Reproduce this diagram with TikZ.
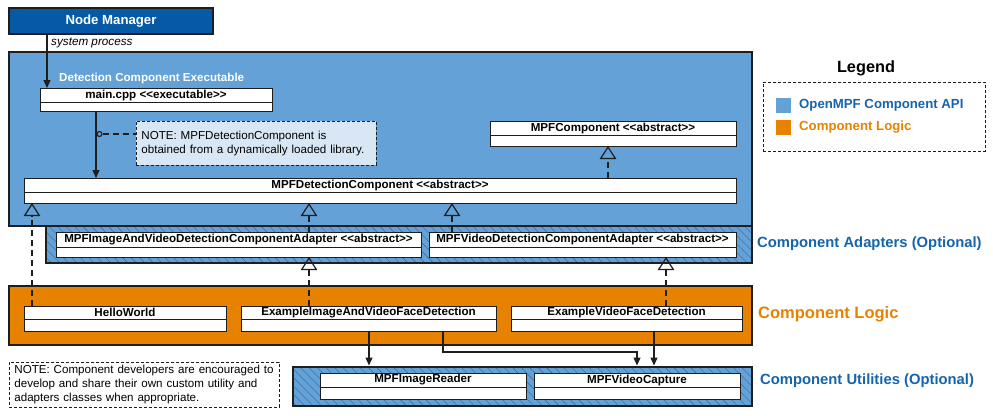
\documentclass[tikz,border=0pt]{standalone}
\usepackage{fontspec}
\setmainfont{Liberation Sans}
\usetikzlibrary{arrows.meta,patterns.meta,calc}
\definecolor{apiblue}{RGB}{99,161,214}
\definecolor{nmblue}{RGB}{6,90,165}
\definecolor{lblblue}{RGB}{22,100,172}
\definecolor{logicor}{RGB}{230,130,0}
\definecolor{notefill}{RGB}{217,231,245}
\definecolor{hatchc}{RGB}{55,100,155}
\definecolor{edge}{RGB}{30,30,30}
\newcommand\umlcls[7]{%
  \node[hdr, minimum width=#4, minimum height=#5] (#1h) at (#2,#3) {#7};
  \node[bdy, minimum width=#4, minimum height=#6] (#1b) at (#1h.south) {};}
\newcommand\stlt{{<}{<}}
\newcommand\stgt{{>}{>}}
\begin{document}
\begin{tikzpicture}[x=1pt,y=-1pt,
  region/.style={draw=edge, line width=2pt, anchor=north west, inner sep=0pt, outer sep=0pt},
  hatched/.style={preaction={fill=apiblue}, pattern={Lines[angle=-45,distance=6pt,line width=0.4pt]}, pattern color=hatchc},
  hdr/.style={draw=edge, fill=white, line width=0.9pt, anchor=north west, inner sep=0pt, outer sep=0pt, font=\fontsize{11.6}{13}\selectfont\bfseries},
  bdy/.style={draw=edge, fill=white, line width=0.9pt, anchor=north, inner sep=0pt, outer sep=0pt},
  arr/.style={line width=1.3pt, draw=edge, -{Triangle[length=8pt,width=7pt]}},
  inh/.style={line width=1.3pt, draw=edge, dash pattern=on 6pt off 4pt, -{Triangle[open,length=13pt,width=16.5pt,line width=1.2pt]}},
  notetxt/.style={font=\fontsize{11.6}{14.5}\selectfont, align=left},
  sidelbl/.style={anchor=west, inner sep=0pt, font=\fontsize{14.8}{16}\selectfont\bfseries}
]
\useasboundingbox (0,0) rectangle (993,415);

% regions
\node[region, fill=nmblue, minimum width=204, minimum height=26, text=white, font=\fontsize{13.2}{15}\selectfont\bfseries] (nm) at (9,8) {Node Manager};
\node[region, fill=apiblue, minimum width=743, minimum height=174] (exe) at (9,52) {};
\node[region, hatched, minimum width=706, minimum height=37] (adapt) at (46,226) {};
\node[region, fill=logicor, minimum width=743, minimum height=59] (logic) at (9,286) {};
\node[region, hatched, minimum width=459, minimum height=39] (util) at (293,367) {};

\node[anchor=west, inner sep=0pt, text=white, font=\fontsize{11.6}{13}\selectfont\bfseries] (exetitle) at (59,78) {Detection Component Executable};
\node[anchor=west, inner sep=0pt, font=\fontsize{11.7}{13}\selectfont\itshape] (sysproc) at (51,43) {system process};

% classes
\umlcls{main}{40}{88}{232}{14}{9}{main.cpp \stlt executable\stgt}
\umlcls{mpc}{490}{121}{246}{14}{11}{MPFComponent \stlt abstract\stgt}
\umlcls{det}{24}{178}{712}{14}{11}{MPFDetectionComponent \stlt abstract\stgt}
\umlcls{iva}{56}{232}{365}{15}{10}{MPFImageAndVideoDetectionComponentAdapter \stlt abstract\stgt}
\umlcls{vda}{429}{232}{307}{15}{10}{MPFVideoDetectionComponentAdapter \stlt abstract\stgt}
\umlcls{hw}{24}{306}{202}{13}{12}{HelloWorld}
\umlcls{eivf}{241}{306}{255}{13}{12}{ExampleImageAndVideoFaceDetection}
\umlcls{evf}{511}{306}{231}{13}{12}{ExampleVideoFaceDetection}
\umlcls{mir}{320}{373}{206}{14}{12}{MPFImageReader}
\umlcls{mvc}{534}{373}{206}{14}{12}{MPFVideoCapture}

% note
\node[anchor=north west, draw=edge, line width=0.8pt, dash pattern=on 3pt off 2pt, fill=notefill, minimum width=240, minimum height=44, inner sep=0pt, text width=230, notetxt] (note1) at (136,121) {NOTE: MPFDetectionComponent is\\obtained from a dynamically loaded library.};

% side labels
\node[sidelbl, text=lblblue] (lbladapt) at (757,244) {Component Adapters (Optional)};
\node[sidelbl, text=logicor, font=\fontsize{16.5}{18}\selectfont\bfseries] (lbllogic) at (758,314) {Component Logic};
\node[sidelbl, text=lblblue] (lblutil) at (760,381) {Component Utilities (Optional)};

% legend
\node[font=\fontsize{16.3}{18}\selectfont\bfseries, inner sep=0pt] (legtitle) at (866,68) {Legend};
\node[anchor=north west, draw=edge, line width=0.8pt, dash pattern=on 3pt off 2pt, minimum width=222, minimum height=69, inner sep=0pt] (legbox) at (763,82) {};
\node[anchor=north west, fill=apiblue, minimum width=15, minimum height=15, inner sep=0pt] (sqapi) at (776,98) {};
\node[anchor=north west, fill=logicor, minimum width=15, minimum height=15, inner sep=0pt] (sqlogic) at (776,120) {};
\node[anchor=west, inner sep=0pt, text=lblblue, font=\fontsize{13.2}{15}\selectfont\bfseries] (legapi) at (799,105.5) {OpenMPF Component API};
\node[anchor=west, inner sep=0pt, text=logicor, font=\fontsize{13.2}{15}\selectfont\bfseries] (leglogic) at (799,127.5) {Component Logic};

% bottom note
\node[anchor=north west, draw=edge, line width=0.8pt, dash pattern=on 3pt off 2pt, minimum width=270, minimum height=45, inner xsep=5pt, inner ysep=0pt, text width=260, notetxt, font=\fontsize{11.6}{14}\selectfont] (note2) at (9,362) {NOTE: Component developers are encouraged to\\develop and share their own custom utility and\\adapters classes when appropriate.};

% x / y helper coordinates
\coordinate (x32) at (32,0);
\coordinate (x47) at (47,0);
\coordinate (x96) at (96,0);
\coordinate (x309) at (309,0);
\coordinate (x369) at (369,0);
\coordinate (x443) at (443,0);
\coordinate (x452) at (452,0);
\coordinate (x608) at (608,0);
\coordinate (x637) at (637,0);
\coordinate (x654) at (654,0);
\coordinate (x666) at (666,0);
\coordinate (y352) at (0,352);

% connectors
\draw[arr] (nm.south -| x47) -- (mainh.north -| x47);
\draw[arr] (mainb.south -| x96) -- (deth.north -| x96);
\node[circle, draw=edge, line width=1.1pt, fill=apiblue, minimum size=5pt, inner sep=0pt] (circ) at (99.5,134) {};
\draw[line width=1.3pt, draw=edge, dash pattern=on 6pt off 4pt] (circ.east) -- (note1.west |- circ);
\draw[inh] (deth.north -| x608) -- (mpcb.south -| x608);
\draw[inh] (hwh.north -| x32) -- (detb.south -| x32);
\draw[inh] (ivah.north -| x309) -- (detb.south -| x309);
\draw[inh] (vdah.north -| x452) -- (detb.south -| x452);
\draw[inh] (eivfh.north -| x309) -- (ivab.south -| x309);
\draw[inh] (evfh.north -| x666) -- (vdab.south -| x666);
\draw[arr, shorten >=1.5pt] (eivfb.south -| x369) -- (util.north -| x369);
\draw[arr, shorten >=1.5pt] (eivfb.south -| x443) -- (x443 |- y352) -- (x637 |- y352) -- (util.north -| x637);
\draw[arr, shorten >=1.5pt] (evfb.south -| x654) -- (util.north -| x654);
\end{tikzpicture}
\end{document}
